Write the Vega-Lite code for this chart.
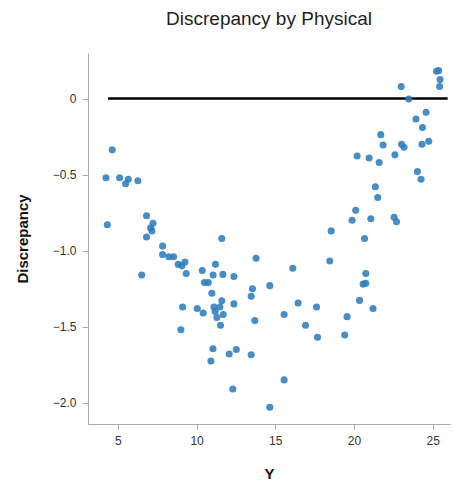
{
  "$schema": "https://vega.github.io/schema/vega-lite/v6.json",
  "autosize": "none",
  "width": 362,
  "height": 371,
  "padding": {"left": 88, "top": 53, "right": 4, "bottom": 62},
  "background": "white",
  "title": {"text": "Discrepancy by Physical", "font": "Liberation Sans", "fontSize": 19, "fontWeight": "normal", "color": "#222", "anchor": "middle", "offset": 24},
  "config": {"view": {"stroke": null}, "axis": {"grid": false, "labelFont": "Liberation Sans", "titleFont": "Liberation Sans", "labelFontSize": 12, "labelColor": "#333", "domainColor": "#aaa", "tickColor": "#aaa", "titleFontSize": 15, "titleFontWeight": "bold", "titleColor": "#111"}},
  "datasets": {
    "pts": [
      {"Y": 4.64, "D": -0.336}, {"Y": 4.24, "D": -0.52}, {"Y": 5.11, "D": -0.52}, {"Y": 5.66, "D": -0.53},
      {"Y": 5.49, "D": -0.56}, {"Y": 6.27, "D": -0.54}, {"Y": 6.82, "D": -0.77}, {"Y": 4.33, "D": -0.83},
      {"Y": 7.23, "D": -0.82}, {"Y": 7.08, "D": -0.85}, {"Y": 7.16, "D": -0.87}, {"Y": 6.82, "D": -0.91},
      {"Y": 7.84, "D": -0.97}, {"Y": 11.6, "D": -0.92},
      {"Y": 25.24, "D": 0.18}, {"Y": 25.38, "D": 0.184}, {"Y": 25.47, "D": 0.125}, {"Y": 25.44, "D": 0.08},
      {"Y": 23.0, "D": 0.079}, {"Y": 23.48, "D": -0.002}, {"Y": 24.58, "D": -0.09}, {"Y": 23.94, "D": -0.134},
      {"Y": 24.35, "D": -0.19}, {"Y": 21.7, "D": -0.237}, {"Y": 21.85, "D": -0.305}, {"Y": 23.02, "D": -0.3},
      {"Y": 23.18, "D": -0.32}, {"Y": 24.32, "D": -0.3}, {"Y": 24.75, "D": -0.28}, {"Y": 20.2, "D": -0.377},
      {"Y": 20.96, "D": -0.39}, {"Y": 21.6, "D": -0.42}, {"Y": 22.6, "D": -0.37}, {"Y": 24.03, "D": -0.48},
      {"Y": 24.26, "D": -0.53}, {"Y": 21.36, "D": -0.58}, {"Y": 21.51, "D": -0.65}, {"Y": 20.11, "D": -0.735},
      {"Y": 19.88, "D": -0.8}, {"Y": 21.07, "D": -0.79}, {"Y": 22.55, "D": -0.78}, {"Y": 22.7, "D": -0.81},
      {"Y": 18.55, "D": -0.87}, {"Y": 20.67, "D": -0.92},
      {"Y": 7.84, "D": -1.026}, {"Y": 8.24, "D": -1.04}, {"Y": 8.54, "D": -1.04}, {"Y": 8.83, "D": -1.09},
      {"Y": 9.07, "D": -1.1}, {"Y": 9.26, "D": -1.075}, {"Y": 9.34, "D": -1.15}, {"Y": 6.51, "D": -1.16},
      {"Y": 13.78, "D": -1.05}, {"Y": 10.36, "D": -1.13}, {"Y": 11.2, "D": -1.09}, {"Y": 11.05, "D": -1.16},
      {"Y": 11.67, "D": -1.156}, {"Y": 12.37, "D": -1.17}, {"Y": 10.5, "D": -1.21}, {"Y": 10.74, "D": -1.21},
      {"Y": 10.97, "D": -1.28}, {"Y": 14.65, "D": -1.23}, {"Y": 13.55, "D": -1.25}, {"Y": 13.47, "D": -1.3},
      {"Y": 9.11, "D": -1.37}, {"Y": 10.04, "D": -1.38}, {"Y": 10.42, "D": -1.41}, {"Y": 11.1, "D": -1.37},
      {"Y": 11.6, "D": -1.33}, {"Y": 11.48, "D": -1.37}, {"Y": 11.18, "D": -1.4}, {"Y": 11.29, "D": -1.44},
      {"Y": 11.69, "D": -1.42}, {"Y": 12.37, "D": -1.35}, {"Y": 11.52, "D": -1.49}, {"Y": 13.7, "D": -1.46},
      {"Y": 9.0, "D": -1.52}, {"Y": 11.04, "D": -1.645}, {"Y": 12.52, "D": -1.65}, {"Y": 12.07, "D": -1.68},
      {"Y": 13.47, "D": -1.684}, {"Y": 10.91, "D": -1.726}, {"Y": 12.3, "D": -1.91}, {"Y": 14.65, "D": -2.03},
      {"Y": 18.46, "D": -1.068}, {"Y": 16.11, "D": -1.116}, {"Y": 20.75, "D": -1.15}, {"Y": 20.58, "D": -1.22},
      {"Y": 20.75, "D": -1.215}, {"Y": 16.45, "D": -1.344}, {"Y": 17.62, "D": -1.37}, {"Y": 20.35, "D": -1.327},
      {"Y": 21.21, "D": -1.38}, {"Y": 15.56, "D": -1.42}, {"Y": 19.56, "D": -1.434}, {"Y": 16.92, "D": -1.49},
      {"Y": 17.68, "D": -1.57}, {"Y": 19.41, "D": -1.555}, {"Y": 15.56, "D": -1.85}
    ],
    "ref": [{"start": 4.37, "end": 25.95, "D": 0}]
  },
  "layer": [
    {
      "data": {"name": "ref"},
      "mark": {"type": "rule", "color": "black", "strokeWidth": 2.5},
      "encoding": {
        "x": {"field": "start", "type": "quantitative", "scale": {"domain": [3.1, 26.1], "nice": false, "zero": false}},
        "x2": {"field": "end"},
        "y": {"field": "D", "type": "quantitative", "scale": {"domain": [-2.14, 0.3], "nice": false, "zero": false}}
      }
    },
    {
      "data": {"name": "pts"},
      "mark": {"type": "circle", "size": 50, "color": "#2f7dbd", "opacity": 0.88},
      "encoding": {
        "x": {"field": "Y", "type": "quantitative", "title": "Y", "scale": {"domain": [3.1, 26.1], "nice": false, "zero": false},
              "axis": {"values": [5, 10, 15, 20, 25], "titlePadding": 20, "labelPadding": 6, "tickSize": 5}},
        "y": {"field": "D", "type": "quantitative", "title": "Discrepancy", "scale": {"domain": [-2.14, 0.3], "nice": false, "zero": false},
              "axis": {"values": [0, -0.5, -1, -1.5, -2], "labelExpr": "datum.value == 0 ? '0' : format(datum.value, '.1f')", "titlePadding": 22, "labelPadding": 6, "tickSize": 6}}
      }
    }
  ]
}
